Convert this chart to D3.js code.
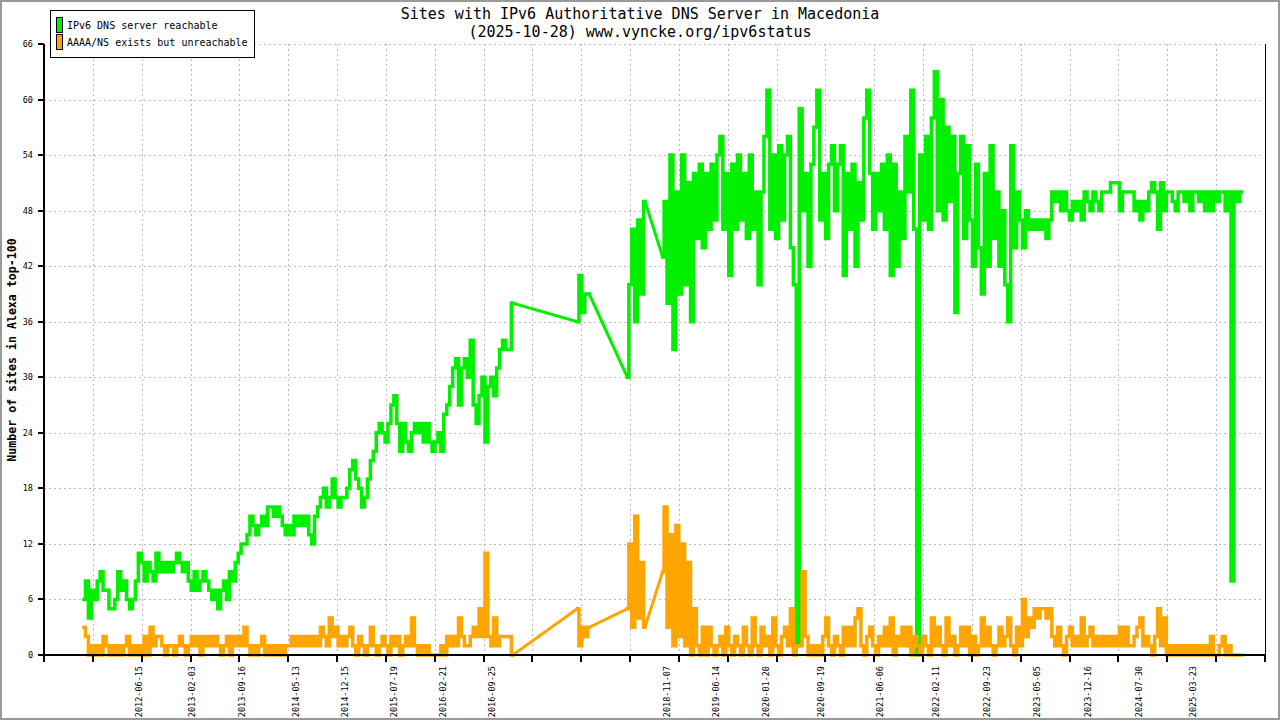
<!DOCTYPE html>
<html>
<head>
<meta charset="utf-8">
<title>IPv6 DNS - Macedonia</title>
<script src="https://d3js.org/d3.v7.min.js"></script>
<style>
body { margin: 0; background: #fff; }
text { font-family: "DejaVu Sans Mono", "Liberation Mono", monospace; fill: #000; }
</style>
</head>
<body>
<script>
// one reading every 13 days from firstDay, null = no measurement that day
var firstDay = "2011-10-16";
var stepDays = 13;

var reachable = [
  6,8,4,7,6,8,9,7,7,5,
  5,6,9,7,8,6,5,6,8,11,
  10,8,10,9,8,11,9,10,9,10,
  9,10,11,10,9,10,8,7,9,7,
  8,9,8,7,6,7,5,7,8,6,
  9,8,10,11,12,12,13,15,14,13,
  14,15,14,16,16,15,16,15,14,13,
  14,13,15,14,15,14,15,13,12,15,
  16,17,18,16,17,19,17,16,17,17,
  18,20,21,19,18,16,17,19,21,22,
  24,25,24,23,25,27,28,25,22,25,
  23,22,24,25,24,25,23,25,23,22,
  23,24,22,26,27,29,31,32,27,31,
  32,30,34,27,25,28,30,23,29,30,
  28,31,33,34,33,33,38,null,null,null,
  null,null,null,null,null,null,null,null,null,null,
  null,null,null,null,null,null,null,null,36,41,
  37,39,39,null,null,null,null,null,null,null,
  null,null,null,null,null,30,40,46,36,47,
  39,49,null,null,null,null,null,43,49,38,
  54,33,50,39,54,40,51,36,52,45,
  53,44,52,46,53,47,54,56,46,52,
  41,53,46,54,47,52,45,54,46,50,
  40,50,56,61,46,54,45,55,47,54,
  56,44,40,1,59,48,52,42,53,57,
  61,47,52,45,53,55,48,53,55,41,
  52,46,53,42,51,47,58,61,52,46,
  52,48,53,46,54,41,53,42,50,45,
  56,50,61,46,0,54,47,56,46,58,
  63,48,60,47,57,49,56,37,52,56,
  45,55,47,42,53,44,39,52,42,55,
  45,50,42,48,40,36,55,44,50,47,
  44,48,46,47,46,47,46,47,45,47,
  50,49,50,48,50,48,47,49,48,49,
  47,50,49,48,50,49,48,50,50,50,
  51,51,51,48,50,50,50,50,48,49,
  47,49,48,50,51,50,46,51,48,50,
  50,49,48,50,50,49,50,48,50,50,
  49,50,48,50,48,50,49,50,50,48,
  50,8,50,49,50
];

var unreachable = [
  3,2,0,1,0,1,0,2,1,0,
  1,0,1,0,1,2,0,1,0,1,
  0,2,0,3,1,2,2,1,0,1,
  1,0,1,2,1,0,1,2,1,2,
  0,2,1,2,1,2,1,0,1,2,
  0,2,1,2,1,3,1,0,1,0,
  1,2,0,1,0,1,0,1,0,1,
  1,2,1,2,1,2,1,2,1,2,
  1,3,2,1,4,2,3,1,2,1,
  2,3,1,0,2,1,0,1,3,1,
  0,1,2,1,0,2,1,2,0,1,
  2,1,4,1,0,1,0,1,0,0,
  0,0,1,0,2,1,2,1,4,2,
  1,1,2,3,2,5,2,11,2,1,
  4,1,2,2,2,2,0,null,null,null,
  null,null,null,null,null,null,null,null,null,null,
  null,null,null,null,null,null,null,null,5,1,
  3,2,3,null,null,null,null,null,null,null,
  null,null,null,null,null,5,12,3,15,4,
  10,3,null,null,null,null,null,9,16,3,
  13,1,14,2,12,1,10,0,5,1,
  0,3,0,3,1,0,1,2,0,3,
  1,0,2,1,0,3,1,0,4,1,
  0,3,1,2,0,4,1,0,2,3,
  1,5,0,1,1,9,2,0,1,0,
  1,0,2,4,1,0,2,1,0,3,
  1,3,1,4,5,1,0,2,3,1,
  0,2,1,3,1,4,0,2,1,3,
  1,3,0,2,1,0,2,1,0,4,
  1,3,1,0,4,1,2,0,1,3,
  1,3,0,2,0,1,4,1,3,1,
  0,1,3,1,2,4,1,0,3,1,
  6,2,4,3,5,4,5,5,4,5,
  2,1,3,1,0,2,3,1,2,1,
  4,1,2,3,1,2,1,2,1,2,
  1,2,1,3,1,3,1,1,2,3,
  4,1,2,1,0,2,5,1,4,0,
  1,0,1,0,1,0,1,0,1,0,
  1,0,1,0,2,0,0,1,2,0,
  1,0,0,0,0
];

var dateLabels = ["2012-06-15","2013-02-03","2013-09-16","2014-05-13","2014-12-15",
  "2015-07-19","2016-02-21","2016-09-25","2018-11-07","2019-06-14","2020-01-20",
  "2020-09-19","2021-06-06","2022-02-11","2022-09-23","2023-05-05","2023-12-16",
  "2024-07-30","2025-03-23"];
var yTicks = [0,6,12,18,24,30,36,42,48,54,60,66];
var xRange = ["2011-04-22","2026-02-06"];
var nXTicks = 25;

var seriesNames = ["IPv6 DNS server reachable","AAAA/NS exists but unreachable"];
var seriesColors = ["#00f000","#ffa500"];

var W = 1280, H = 720;
var plotL = 44, plotR = 1265, plotT = 44, plotB = 655;

var parse = d3.utcParse("%Y-%m-%d");
var start = parse(firstDay);

var svg = d3.select("body").append("svg")
  .attr("width", W).attr("height", H)
  .attr("xmlns", "http://www.w3.org/2000/svg");

svg.append("rect").attr("x",1).attr("y",1).attr("width",W-2).attr("height",H-2)
  .attr("fill","#fff").attr("stroke","#999").attr("stroke-width",2);

var x = d3.scaleUtc().domain(xRange.map(parse)).range([plotL, plotR]);
var y = d3.scaleLinear().domain([0, 66]).range([plotB, plotT]);

var d0 = x.domain()[0], d1 = x.domain()[1];
var xTicks = d3.range(nXTicks + 1).map(function(k) { return new Date(+d0 + k * (d1 - d0) / nXTicks); });

// grid
var grid = svg.append("g").attr("stroke","#bbb").attr("stroke-dasharray","2,3")
  .attr("shape-rendering","crispEdges");
grid.selectAll(".gx").data(xTicks.slice(1, -1)).enter().append("line")
  .attr("x1", function(d){ return Math.round(x(d)) + 0.5; })
  .attr("x2", function(d){ return Math.round(x(d)) + 0.5; })
  .attr("y1", plotT).attr("y2", plotB);
grid.selectAll(".gy").data(yTicks.slice(1)).enter().append("line")
  .attr("y1", function(d){ return Math.round(y(d)) + 0.5; })
  .attr("y2", function(d){ return Math.round(y(d)) + 0.5; })
  .attr("x1", plotL).attr("x2", plotR - 3);

// series: consecutive readings drawn as steps, missing stretches bridged by a straight line
function runs(vals) {
  var out = [], cur = [];
  vals.forEach(function(v, i) {
    if (v == null) { if (cur.length) out.push(cur); cur = []; return; }
    cur.push({date: d3.utcDay.offset(start, i * stepDays), v: v});
  });
  if (cur.length) out.push(cur);
  return out;
}
var stepLine = d3.line().curve(d3.curveStep)
  .x(function(d){ return x(d.date); }).y(function(d){ return y(d.v); });
var straight = d3.line()
  .x(function(d){ return x(d.date); }).y(function(d){ return y(d.v); });

[reachable, unreachable].forEach(function(vals, k) {
  var g = svg.append("g").attr("fill","none").attr("stroke", seriesColors[k])
    .attr("stroke-width", 3.5).attr("stroke-linejoin","miter").attr("stroke-linecap","square");
  var rs = runs(vals);
  rs.forEach(function(r, j) {
    g.append("path").datum(r).attr("d", stepLine);
    if (j > 0) {
      var prev = rs[j-1];
      g.append("path").datum([prev[prev.length-1], r[0]]).attr("d", straight)
        .attr("stroke-width", 3);
    }
  });
});

// axes
var ax = svg.append("g").attr("stroke","#000").attr("shape-rendering","crispEdges");
ax.append("line").attr("x1",plotL).attr("x2",plotL).attr("y1",plotT).attr("y2",plotB).attr("stroke-width",2);
ax.append("line").attr("x1",plotR+0.5).attr("x2",plotR+0.5).attr("y1",plotT).attr("y2",plotB);
ax.append("line").attr("x1",plotL).attr("x2",plotR+1).attr("y1",plotB).attr("y2",plotB).attr("stroke-width",2);
ax.selectAll(".ty").data(yTicks).enter().append("line")
  .attr("x1", plotL - 6).attr("x2", plotL)
  .attr("y1", function(d){ return Math.round(y(d)); })
  .attr("y2", function(d){ return Math.round(y(d)); })
  .attr("stroke-width", 2);
ax.selectAll(".tx").data(xTicks).enter().append("line")
  .attr("x1", function(d){ return Math.round(x(d)); })
  .attr("x2", function(d){ return Math.round(x(d)); })
  .attr("y1", plotB).attr("y2", plotB + 7)
  .attr("stroke-width", 2);

svg.selectAll(".ly").data(yTicks).enter().append("text")
  .attr("x", 33).attr("y", function(d){ return y(d); })
  .attr("dy", "0.35em").attr("text-anchor","end")
  .attr("font-size", "8.5px").text(function(d){ return d; });

svg.selectAll(".lx").data(dateLabels).enter().append("text")
  .attr("transform", function(d){ return "translate(" + x(parse(d)) + ",666) rotate(-90)"; })
  .attr("dy", "0.35em").attr("text-anchor","end")
  .attr("font-size", "8.5px").text(function(d){ return d; });

svg.append("text")
  .attr("transform", "translate(16,350) rotate(-90)")
  .attr("text-anchor","middle").attr("font-size","11.6px").attr("font-weight","bold")
  .text("Number of sites in Alexa top-100");

// title
svg.append("text").attr("x", 640).attr("y", 19).attr("text-anchor","middle")
  .attr("font-size","15px").text("Sites with IPv6 Authoritative DNS Server in Macedonia");
svg.append("text").attr("x", 640).attr("y", 37).attr("text-anchor","middle")
  .attr("font-size","15px").text("(2025-10-28) www.vyncke.org/ipv6status");

// legend
var lg = svg.append("g");
lg.append("rect").attr("x",50.5).attr("y",10.5).attr("width",204).attr("height",47)
  .attr("fill","#fff").attr("stroke","#000");
seriesNames.forEach(function(name, k) {
  lg.append("rect").attr("x",56.5).attr("y",17.5 + k*17).attr("width",6).attr("height",15)
    .attr("fill", seriesColors[k]).attr("stroke","#000");
  lg.append("text").attr("x",67).attr("y",29 + k*17)
    .attr("font-size","10px").text(name);
});
</script>
</body>
</html>
